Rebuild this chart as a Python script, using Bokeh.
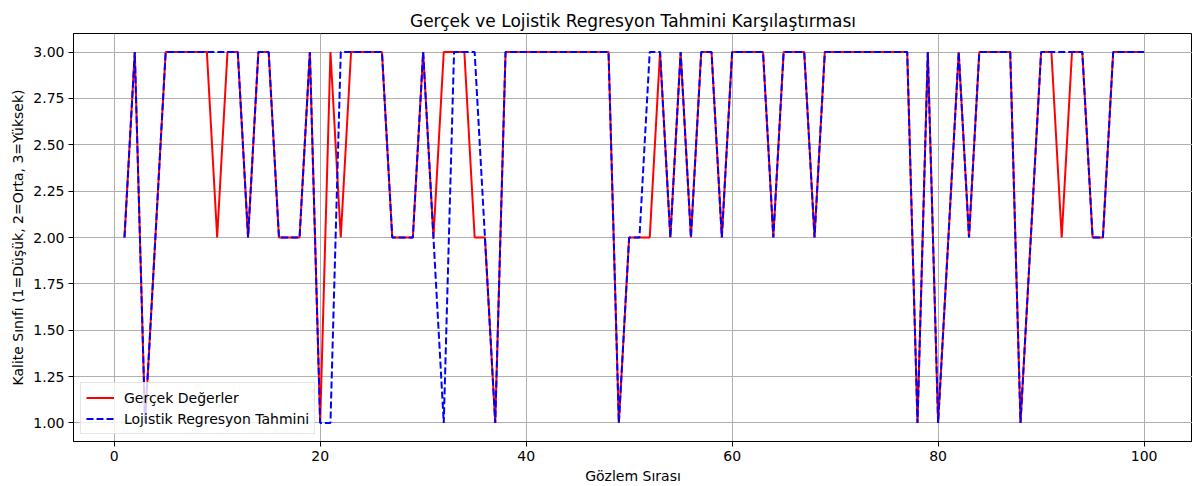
from bokeh.plotting import figure
from bokeh.models import FixedTicker, PrintfTickFormatter, Legend, LegendItem, Range1d
from bokeh.embed import file_html
from bokeh.resources import INLINE

# ---- data ----
obs = list(range(1, 101))
actual = [2, 3, 1, 2, 3, 3, 3, 3, 3, 2,
          3, 3, 2, 3, 3, 2, 2, 2, 3, 1,
          3, 2, 3, 3, 3, 3, 2, 2, 2, 3,
          2, 3, 3, 3, 2, 2, 1, 3, 3, 3,
          3, 3, 3, 3, 3, 3, 3, 3, 1, 2,
          2, 2, 3, 2, 3, 2, 3, 3, 2, 3,
          3, 3, 3, 2, 3, 3, 3, 2, 3, 3,
          3, 3, 3, 3, 3, 3, 3, 1, 3, 1,
          2, 3, 2, 3, 3, 3, 3, 1, 2, 3,
          3, 2, 3, 3, 2, 2, 3, 3, 3, 3]
predicted = [2, 3, 1, 2, 3, 3, 3, 3, 3, 3,
             3, 3, 2, 3, 3, 2, 2, 2, 3, 1,
             1, 3, 3, 3, 3, 3, 2, 2, 2, 3,
             2, 1, 3, 3, 3, 2, 1, 3, 3, 3,
             3, 3, 3, 3, 3, 3, 3, 3, 1, 2,
             2, 3, 3, 2, 3, 2, 3, 3, 2, 3,
             3, 3, 3, 2, 3, 3, 3, 2, 3, 3,
             3, 3, 3, 3, 3, 3, 3, 1, 3, 1,
             2, 3, 2, 3, 3, 3, 3, 1, 2, 3,
             3, 3, 3, 3, 2, 2, 3, 3, 3, 3]
x_ticks = [0, 20, 40, 60, 80, 100]
y_ticks = [1.0, 1.25, 1.5, 1.75, 2.0, 2.25, 2.5, 2.75, 3.0]

title = "Gerçek ve Lojistik Regresyon Tahmini Karşılaştırması"
x_label = "Gözlem Sırası"
y_label = "Kalite Sınıfı (1=Düşük, 2=Orta, 3=Yüksek)"
label_actual = "Gerçek Değerler"
label_pred = "Lojistik Regresyon Tahmini"

FONT = "DejaVu Sans"

p = figure(width=1192, height=486, output_backend="svg", toolbar_location=None,
           x_range=Range1d(-3.95, 104.7), y_range=Range1d(0.9, 3.1),
           min_border_left=73, min_border_right=0, min_border_top=33, min_border_bottom=44)

p.title.text = title
p.title.align = "center"
p.title.text_font = FONT
p.title.text_font_size = "17px"
p.title.text_font_style = "normal"
p.title.text_color = "#000000"
p.title.offset = 0
p.title.standoff = 5

r1 = p.line(obs, actual, line_color="#ff0000", line_width=2)
r2 = p.line(obs, predicted, line_color="#0000ff", line_width=2, line_dash="7 3")

p.xaxis.ticker = FixedTicker(ticks=x_ticks)
p.yaxis.ticker = FixedTicker(ticks=y_ticks)
p.yaxis.formatter = PrintfTickFormatter(format="%.2f")
p.xaxis.axis_label = x_label
p.yaxis.axis_label = y_label

for ax in (p.xaxis, p.yaxis):
    ax.axis_label_text_font = FONT
    ax.axis_label_text_font_size = "14px"
    ax.axis_label_text_font_style = "normal"
    ax.axis_label_text_color = "#000000"
    ax.major_label_text_font = FONT
    ax.major_label_text_font_size = "14px"
    ax.major_label_text_color = "#000000"
    ax.major_tick_out = 5
    ax.major_tick_in = 0
    ax.minor_tick_line_color = None
    ax.axis_line_color = "#000000"
    ax.major_tick_line_color = "#000000"
    ax.axis_label_standoff = 4
    ax.major_label_standoff = 4

p.xgrid.ticker = FixedTicker(ticks=x_ticks)
p.ygrid.ticker = FixedTicker(ticks=y_ticks)
p.grid.grid_line_color = "#b0b0b0"
p.grid.grid_line_width = 1
p.outline_line_color = "#000000"
p.outline_line_alpha = 1
p.background_fill_color = "#ffffff"
p.border_fill_color = "#ffffff"

legend = Legend(items=[LegendItem(label=label_actual, renderers=[r1]),
                       LegendItem(label=label_pred, renderers=[r2])],
                location="bottom_left")
legend.label_text_font = FONT
legend.label_text_font_size = "14px"
legend.label_text_color = "#000000"
legend.border_line_color = "#cccccc"
legend.background_fill_alpha = 0.8
legend.margin = 7
legend.padding = 5
legend.spacing = 2
legend.glyph_width = 28
legend.glyph_height = 19
legend.label_height = 19
legend.label_standoff = 10
p.add_layout(legend)

open("out.html", "w").write(file_html(p, INLINE))
